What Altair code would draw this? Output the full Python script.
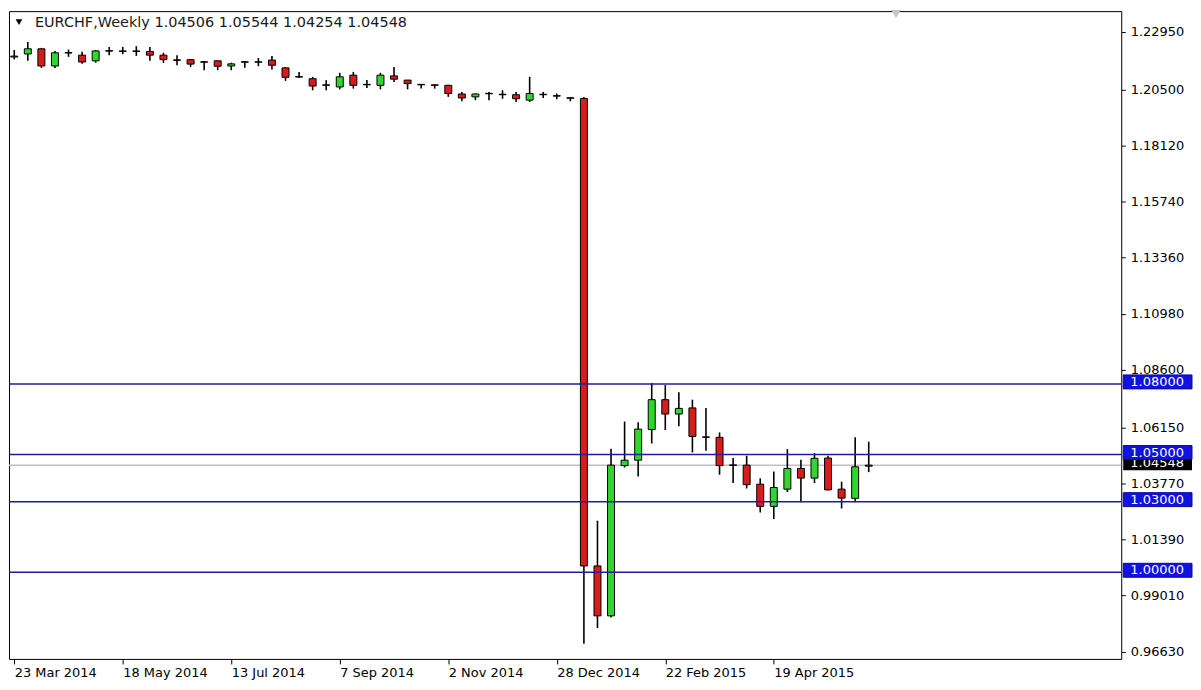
import altair as alt
import pandas as pd

# ---- data (weekly EURCHF candles) ----
opens = [1.2188, 1.2201, 1.2223, 1.2150, 1.2205, 1.2196, 1.2172, 1.2213, 1.2212, 1.2214,
         1.2212, 1.2196, 1.2176, 1.2177, 1.2168, 1.2172, 1.2150, 1.2168, 1.2166, 1.2175,
         1.2142, 1.2103, 1.2096, 1.2068, 1.2061, 1.2111, 1.2070, 1.2068, 1.2108, 1.2090,
         1.2072, 1.2070, 1.2068, 1.2031, 1.2019, 1.2032, 1.2028, 1.2028, 1.2005, 1.2028,
         1.2024, 1.2015, 1.2012, 1.0027, 0.9815, 1.0453, 1.0476, 1.0606, 1.0733, 1.0672,
         1.0698, 1.0575, 1.0573, 1.0456, 1.0455, 1.0374, 1.0280, 1.0353, 1.0441, 1.0400,
         1.0485, 1.0353, 1.0314, 1.04506]
highs = [1.2218, 1.2252, 1.2227, 1.2214, 1.2220, 1.2210, 1.2218, 1.2231, 1.2231, 1.2234,
         1.2231, 1.2206, 1.2196, 1.2178, 1.2170, 1.2173, 1.2164, 1.2169, 1.2184, 1.2192,
         1.2146, 1.2125, 1.2104, 1.2090, 1.2121, 1.2125, 1.2090, 1.2121, 1.2146, 1.2091,
         1.2073, 1.2071, 1.2070, 1.2040, 1.2033, 1.2040, 1.2047, 1.2040, 1.2104, 1.2040,
         1.2033, 1.2016, 1.2018, 1.0219, 1.0525, 1.0640, 1.0637, 1.0804, 1.0795, 1.0764,
         1.0733, 1.0698, 1.0594, 1.0485, 1.0495, 1.0399, 1.0428, 1.0523, 1.0478, 1.0506,
         1.0495, 1.0385, 1.0573, 1.05544]
lows = [1.2178, 1.2172, 1.2142, 1.2142, 1.2189, 1.2160, 1.2164, 1.2196, 1.2200, 1.2193,
        1.2172, 1.2163, 1.2153, 1.2146, 1.2132, 1.2132, 1.2132, 1.2143, 1.2149, 1.2135,
        1.2087, 1.2099, 1.2047, 1.2047, 1.2051, 1.2054, 1.2057, 1.2051, 1.2082, 1.2051,
        1.2054, 1.2054, 1.2019, 1.2000, 1.2005, 1.2005, 1.2011, 1.1997, 1.1997, 1.2014,
        1.2009, 1.2000, 0.9697, 0.9763, 0.9808, 1.0445, 1.0407, 1.0547, 1.0604, 1.0620,
        1.0509, 1.0516, 1.0414, 1.0379, 1.0356, 1.0254, 1.0226, 1.0341, 1.0297, 1.0379,
        1.0348, 1.0271, 1.0297, 1.04254]
closes = [1.2192, 1.2223, 1.2150, 1.2206, 1.2207, 1.2167, 1.2214, 1.2215, 1.2214, 1.2212,
          1.2196, 1.2177, 1.2174, 1.2158, 1.2166, 1.2149, 1.2159, 1.2166, 1.2168, 1.2153,
          1.2102, 1.2105, 1.2065, 1.2070, 1.2104, 1.2068, 1.2072, 1.2111, 1.2094, 1.2075,
          1.2070, 1.2068, 1.2033, 1.2014, 1.2031, 1.2034, 1.2030, 1.2011, 1.2033, 1.2030,
          1.2022, 1.2013, 1.0027, 0.9815, 1.0455, 1.0476, 1.0608, 1.0733, 1.0672, 1.0696,
          1.0577, 1.0573, 1.0453, 1.0454, 1.0372, 1.0280, 1.0360, 1.0441, 1.0400, 1.0484,
          1.0350, 1.0315, 1.0448, 1.04548]

x_tick_index = [0, 8, 16, 24, 32, 40, 48, 56]
x_tick_labels = ["23 Mar 2014", "18 May 2014", "13 Jul 2014", "7 Sep 2014",
                 "2 Nov 2014", "28 Dec 2014", "22 Feb 2015", "19 Apr 2015"]
y_ticks = [1.2295, 1.2050, 1.1812, 1.1574, 1.1336, 1.1098, 1.0860,
           1.0615, 1.0377, 1.0139, 0.9901, 0.9663]
levels = [1.08, 1.05, 1.03, 1.00]
level_labels = ["1.08000", "1.05000", "1.03000", "1.00000"]
last_price = [1.04548]
last_label = ["1.04548"]
title_text = "EURCHF,Weekly  1.04506 1.05544 1.04254 1.04548"

GREEN = "#2fd62f"
RED = "#d81c1c"
LINE_BLUE = "#1e1e9c"
BOX_BLUE = "#1212e0"
FONT = "DejaVu Sans"
W, H = 1116, 650

df = pd.DataFrame({"i": list(range(len(opens))), "open": opens, "high": highs,
                   "low": lows, "close": closes})
df["body_lo"] = df[["open", "close"]].min(axis=1)
df["body_hi"] = df[["open", "close"]].max(axis=1)
df["dir"] = ["up" if c >= o else "down" for o, c in zip(opens, closes)]

lvl_df = pd.DataFrame({"price": levels, "label": level_labels})
last_df = pd.DataFrame({"price": last_price, "label": last_label})
one = pd.DataFrame({"k": [0]})

label_expr = "[" + ",".join("'" + s + "'" for s in x_tick_labels) + "][datum.value / 8]"

xscale = alt.Scale(domain=[-0.02, 81.25], nice=False, zero=False)
yscale = alt.Scale(domain=[0.9632, 1.2383], nice=False, zero=False)

x_axis = alt.Axis(values=x_tick_index, labelExpr=label_expr, title=None,
                  grid=False, domain=False, tickSize=5, tickColor="#000000",
                  labelAlign="left", labelPadding=3, labelFontSize=13,
                  labelFont=FONT, labelColor="#000000", labelFlush=False,
                  labelOverlap=False)
y_axis = alt.Axis(orient="right", values=y_ticks, format=".5f", title=None,
                  grid=False, domain=False, tickSize=4, tickColor="#000000",
                  labelPadding=5, labelFontSize=13, labelFont=FONT,
                  labelColor="#000000", labelOverlap=False, labelFlush=False)


def yq(field):
    return alt.Y(field, type="quantitative", scale=yscale, axis=y_axis)


def xq(field):
    return alt.X(field, type="quantitative", scale=xscale, axis=x_axis)


wicks = alt.Chart(df).mark_rule(color="#000000", strokeWidth=1.6).encode(
    x=xq("i"), y=yq("low"), y2="high:Q")

bodies = alt.Chart(df).mark_bar(size=7, stroke="#000000", strokeWidth=1).encode(
    x=xq("i"), y=yq("body_lo"), y2="body_hi:Q",
    color=alt.Color("dir:N", scale=alt.Scale(domain=["up", "down"], range=[GREEN, RED]),
                    legend=None),
)

last_line = alt.Chart(last_df).mark_rule(color="#c0c0c0", strokeWidth=1.5).encode(
    y=yq("price"))

level_lines = alt.Chart(lvl_df).mark_rule(color=LINE_BLUE, strokeWidth=1.5).encode(
    y=yq("price"))

last_box = alt.Chart(last_df).mark_rect(color="#000000", yOffset=-9, y2Offset=5).encode(
    x=alt.value(W + 2), x2=alt.value(W + 71), y=yq("price"), y2="price:Q")
last_txt = alt.Chart(last_df).mark_text(color="#ffffff", fontSize=13, font=FONT,
                                        align="center", baseline="middle", dy=-2).encode(
    x=alt.value(W + 36), y=yq("price"), text="label:N")

lvl_box = alt.Chart(lvl_df).mark_rect(color=BOX_BLUE, stroke="#0a0a90", strokeWidth=1,
                                      yOffset=-9, y2Offset=5).encode(
    x=alt.value(W + 2), x2=alt.value(W + 71), y=yq("price"), y2="price:Q")
lvl_txt = alt.Chart(lvl_df).mark_text(color="#ffffff", fontSize=13, font=FONT,
                                      align="center", baseline="middle", dy=-2).encode(
    x=alt.value(W + 36), y=yq("price"), text="label:N")

title_mark = alt.Chart(one).mark_text(text=title_text, fontSize=14.5, font=FONT,
                                      color="#1a1a1a", align="left",
                                      baseline="middle").encode(
    x=alt.value(26), y=alt.value(12))
tri = alt.Chart(one).mark_point(shape="triangle-down", filled=True, color="#000000",
                                size=45, opacity=1).encode(x=alt.value(10), y=alt.value(11))
shift_tri = alt.Chart(one).mark_point(shape="triangle-down", filled=True, color="#c8c8c8",
                                      size=90, opacity=1).encode(x=alt.value(890), y=alt.value(3))

chart = alt.layer(
    last_line, wicks, bodies, level_lines, last_box, last_txt, lvl_box, lvl_txt,
    title_mark, tri, shift_tri
).properties(width=W, height=H, padding=0, background="#ffffff").configure_view(
    stroke="#000000", strokeWidth=1
)

chart.save("out.html", embed_options={"renderer": "svg", "actions": False})
